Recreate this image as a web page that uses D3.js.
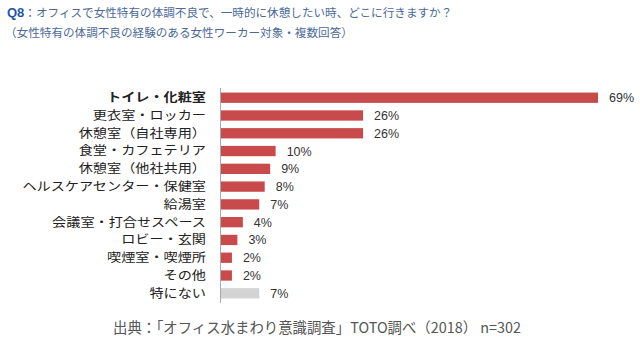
<!DOCTYPE html>
<html><head><meta charset="utf-8">
<script src="https://cdn.jsdelivr.net/npm/d3@7"></script>
<style>
html,body{margin:0;padding:0;background:#fff;}
svg{display:block;font-family:"Noto Sans CJK JP","Noto Sans",sans-serif;}
</style></head>
<body><svg id="c" width="640" height="345"></svg>
<script>
const categories = ["トイレ・化粧室","更衣室・ロッカー","休憩室（自社専用）","食堂・カフェテリア","休憩室（他社共用）","ヘルスケアセンター・保健室","給湯室","会議室・打合せスペース","ロビー・玄関","喫煙室・喫煙所","その他","特にない"];
const values = [69,26,26,10,9,8,7,4,3,2,2,7];
const titleQ = "Q8";
const titleText = "：オフィスで女性特有の体調不良で、一時的に休憩したい時、どこに行きますか？";
const subtitle = "（女性特有の体調不良の経験のある女性ワーカー対象・複数回答）";
const source = "出典：「オフィス水まわり意識調査」TOTO調べ（2018） n=302";

const svg = d3.select("#c");
const x = d3.scaleLinear().domain([0,69]).range([221,598]);
const y = d3.scaleBand().domain(categories).range([89,302]).paddingInner(0.42).paddingOuter(0.2);

// title
const t = svg.append("text").attr("x",7).attr("y",17).attr("font-size",11.6).attr("fill","#4b6a98");
t.append("tspan").attr("font-weight","bold").attr("fill","#1f57a4").attr("font-family","Liberation Sans, Arial, sans-serif").attr("font-size",13).text(titleQ);
t.append("tspan").text(titleText);
svg.append("text").attr("x",5).attr("y",37).attr("font-size",11.6).attr("fill","#4b6a98").text(subtitle);

// bars
svg.selectAll("rect.bar").data(values).join("rect")
  .attr("x",x(0)).attr("y",(d,i)=>y(categories[i]))
  .attr("width",d=>x(d)-x(0)).attr("height",y.bandwidth())
  .attr("fill",(d,i)=>i===categories.length-1?"#d3d3d3":"#c94a4b");

// axis line
svg.append("line").attr("x1",220.5).attr("x2",220.5).attr("y1",88).attr("y2",303).attr("stroke","#aaa").attr("stroke-width",1);

// category labels (slightly widened glyphs)
const lg = svg.append("g").attr("transform","translate(206,0) scale(1.16,1)");
lg.selectAll("text.cat").data(categories).join("text")
  .attr("x",0).attr("y",d=>y(d)+y.bandwidth()/2).attr("dy","0.36em")
  .attr("text-anchor","end").attr("font-size",12.2)
  .attr("font-weight",(d,i)=>i===0?"bold":"normal")
  .attr("fill","#222").text(d=>d);

// value labels
svg.selectAll("text.val").data(values).join("text")
  .attr("x",d=>x(d)+11).attr("y",(d,i)=>y(categories[i])+y.bandwidth()/2).attr("dy","0.36em")
  .attr("font-size",12.5).attr("fill","#333").attr("font-family","Liberation Sans, Arial, sans-serif")
  .text(d=>d+"%");

// source
svg.append("text").attr("x",113).attr("y",333).attr("font-size",14.4).attr("fill","#555").text(source);
</script></body></html>
